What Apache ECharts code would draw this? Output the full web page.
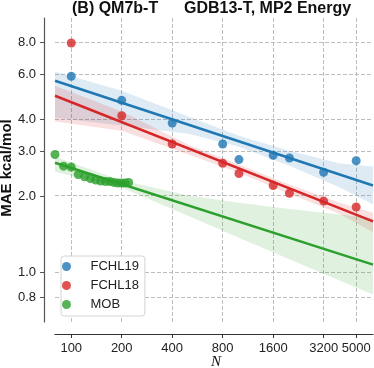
<!DOCTYPE html>
<html>
<head>
<meta charset="utf-8">
<script src="https://cdn.jsdelivr.net/npm/echarts@6/dist/echarts.min.js"></script>
<style>
  html, body { margin: 0; padding: 0; background: #fff; }
  #chart { width: 374px; height: 368px; }
</style>
</head>
<body>
<div id="chart"></div>
<script>
// tick labels
const xTicks = [100, 200, 400, 800, 1600, 3200, 5000];
const yTicks = [0.8, 1.0, 2.0, 3.0, 4.0, 6.0, 8.0];
const xRange = [80, 6300];
const yRange = [0.64, 10];

// measured MAE values
const nFchl = [100, 200, 400, 800, 1000, 1600, 2000, 3200, 5000];
const fchl19 = [5.9, 4.75, 3.87, 3.2, 2.78, 2.89, 2.82, 2.48, 2.75];
const fchl18 = [7.98, 4.13, 3.2, 2.69, 2.45, 2.2, 2.05, 1.91, 1.81];
const nMob = [80, 90, 100, 110, 120, 130, 140, 150, 160, 170, 180, 190, 200, 210, 220];
const mob = [2.91, 2.62, 2.6, 2.43, 2.38, 2.34, 2.31, 2.29, 2.28, 2.28, 2.26, 2.25, 2.25, 2.25, 2.26];

// fitted lines (ends at the axis limits)
const fitN = [80, 6300];
const fchl19Fit = [5.67, 2.2];
const fchl18Fit = [4.95, 1.59];
const mobFit = [2.7, 1.075];

// confidence bands
const bandN = [80, 200, 500, 1000, 2000, 4000, 6300];
const fchl19Lo = [4.06, 3.78, 3.51, 3.12, 2.63, 2.16, 1.85];
const fchl19Hi = [6.16, 5.18, 4.1, 3.45, 3.01, 2.68, 2.61];
const fchl18Lo = [3.92, 3.61, 2.91, 2.47, 2.04, 1.7, 1.44];
const fchl18Hi = [5.42, 4.29, 3.18, 2.66, 2.22, 1.88, 1.72];
const mobLo = [2.49, 2.16, 1.67, 1.37, 1.13, 0.93, 0.82];
const mobHi = [2.85, 2.3, 2.01, 1.88, 1.78, 1.69, 1.63];

const BLUE = '#1f77b4', RED = '#d62728', GREEN = '#2ca02c';
const GRID = '#bdbdbd';
const font = 'Liberation Sans, Arial, sans-serif';

// dashed grid at the tick values, built from small filled dashes
function gridRender(params, api) {
  if (params.dataIndex !== 0) return;
  const dashes = [];
  const on = 4, step = 6;
  xTicks.forEach(v => {
    const a = api.coord([v, yRange[1]]), b = api.coord([v, yRange[0]]);
    const x = Math.floor(a[0]);
    for (let y = a[1]; y < b[1]; y += step) {
      dashes.push({ type: 'rect', shape: { x: x, y: y, width: 1, height: Math.min(on, b[1] - y) },
        style: { fill: GRID } });
    }
  });
  yTicks.forEach(v => {
    const a = api.coord([xRange[0], v]), b = api.coord([xRange[1], v]);
    const y = Math.floor(a[1]);
    for (let x = a[0]; x < b[0]; x += step) {
      dashes.push({ type: 'rect', shape: { x: x, y: y, width: Math.min(on, b[0] - x), height: 1 },
        style: { fill: GRID } });
    }
  });
  return { type: 'group', children: dashes };
}

function band(name, lo, hi, color) {
  return {
    type: 'custom',
    name: name,
    silent: true,
    clip: true,
    z: 1,
    data: bandN.map((n, i) => [n, lo[i], hi[i]]),
    encode: { x: 0, y: [1, 2] },
    renderItem: function (params, api) {
      if (params.dataIndex !== 0) return;
      const top = bandN.map((n, i) => api.coord([n, hi[i]]));
      const bot = bandN.map((n, i) => api.coord([n, lo[i]])).reverse();
      return {
        type: 'polygon',
        shape: { points: top.concat(bot) },
        style: { fill: color, opacity: 0.15 }
      };
    }
  };
}

function dots(name, xs, ys, color) {
  return {
    type: 'scatter',
    name: name,
    data: xs.map((n, i) => [n, ys[i]]),
    symbolSize: 9,
    itemStyle: { color: color, opacity: 0.8 },
    z: 2
  };
}

function fit(name, ys, color) {
  return {
    type: 'line',
    name: name,
    data: fitN.map((n, i) => [n, ys[i]]),
    showSymbol: false,
    silent: true,
    lineStyle: { color: color, width: 2.5 },
    z: 3
  };
}

const chart = echarts.init(document.getElementById('chart'));
chart.setOption({
  animation: false,
  title: [
    { text: '(B) QM7b-T', left: 72, top: 1, padding: 0,
      textStyle: { fontSize: 16, fontWeight: 'bold', color: '#111', fontFamily: font } },
    { text: 'GDB13-T, MP2 Energy', left: 184, top: 1, padding: 0,
      textStyle: { fontSize: 16, fontWeight: 'bold', color: '#111', fontFamily: font } }
  ],
  // axis titles as plain text so they never push the grid
  graphic: [
    { type: 'text', x: 7, y: 168, rotation: Math.PI / 2, silent: true,
      style: { text: 'MAE kcal/mol', fill: '#111', fontSize: 15, fontWeight: 'bold', fontFamily: font,
        align: 'center', verticalAlign: 'middle', textAlign: 'center', textVerticalAlign: 'middle' } },
    { type: 'text', x: 216, y: 362, silent: true,
      style: { text: 'N', fill: '#111', fontSize: 15, fontStyle: 'italic', fontFamily: 'Liberation Serif, serif',
        align: 'center', verticalAlign: 'middle', textAlign: 'center', textVerticalAlign: 'middle' } }
  ],
  grid: { left: 55, right: 1, top: 18, bottom: 46 },
  legend: {
    data: ['FCHL19', 'FCHL18', 'MOB'],
    orient: 'vertical',
    left: 61,
    top: 256,
    icon: 'circle',
    itemWidth: 38,
    itemHeight: 9,
    itemGap: 6,
    padding: [4, 6, 5, 1],
    backgroundColor: '#fff',
    borderColor: '#d4d4d4',
    borderWidth: 1,
    borderRadius: 3,
    textStyle: { fontSize: 13, color: '#222', fontFamily: font }
  },
  xAxis: {
    type: 'log',
    logBase: 10,
    min: xRange[0],
    max: xRange[1],
    offset: 12,
    axisLine: { lineStyle: { color: '#333', width: 1.2 } },
    axisTick: { customValues: xTicks, length: 4, lineStyle: { color: '#333' } },
    axisLabel: { customValues: xTicks, margin: 8, fontSize: 13, color: '#222', fontFamily: font,
      formatter: v => String(Math.round(v)) },
    splitLine: { show: false }
  },
  yAxis: {
    type: 'log',
    logBase: 10,
    min: yRange[0],
    max: yRange[1],
    offset: 11,
    axisLine: { show: true, lineStyle: { color: '#555', width: 1.2 } },
    axisTick: { show: true, customValues: yTicks, length: 4, lineStyle: { color: '#555' } },
    axisLabel: { customValues: yTicks, margin: 8, fontSize: 13, color: '#222', fontFamily: font,
      formatter: v => Number(v).toFixed(1) },
    splitLine: { show: false }
  },
  series: [
    {
      type: 'custom',
      name: 'gridlines',
      silent: true,
      z: 1,
      data: bandN.map((n, i) => [n, mobLo[i], mobHi[i]]),
      encode: { x: 0, y: [1, 2] },
      renderItem: gridRender
    },
    band('FCHL19 ci', fchl19Lo, fchl19Hi, BLUE),
    band('FCHL18 ci', fchl18Lo, fchl18Hi, RED),
    band('MOB ci', mobLo, mobHi, GREEN),
    dots('FCHL19', nFchl, fchl19, BLUE),
    dots('FCHL18', nFchl, fchl18, RED),
    dots('MOB', nMob, mob, GREEN),
    fit('FCHL19 fit', fchl19Fit, BLUE),
    fit('FCHL18 fit', fchl18Fit, RED),
    fit('MOB fit', mobFit, GREEN)
  ]
});
</script>
</body>
</html>
